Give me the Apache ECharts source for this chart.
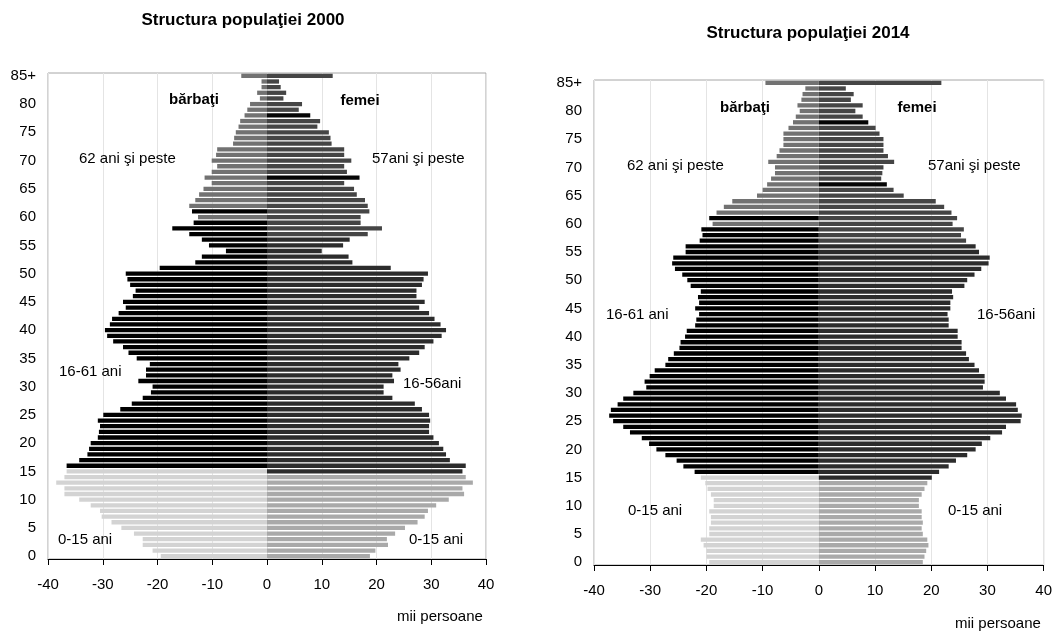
<!DOCTYPE html>
<html><head><meta charset="utf-8">
<script src="https://cdn.jsdelivr.net/npm/echarts@6/dist/echarts.min.js"></script>
<style>html,body{margin:0;padding:0;background:#fff}#c{width:1055px;height:631px}</style>
</head><body><div id="c"></div>
<script>
// age categories, bottom (0) to top (85+)
const ages = ['0','1','2','3','4','5','6','7','8','9','10','11','12','13','14','15','16','17','18','19',
  '20','21','22','23','24','25','26','27','28','29','30','31','32','33','34','35','36','37','38','39',
  '40','41','42','43','44','45','46','47','48','49','50','51','52','53','54','55','56','57','58','59',
  '60','61','62','63','64','65','66','67','68','69','70','71','72','73','74','75','76','77','78','79',
  '80','81','82','83','84','85+'];

// thousands of persons, age 0 .. 85+
const men2000 = [19.4,20.9,22.7,22.7,24.3,26.6,28.4,30.2,30.5,32.2,34.3,37.0,37.0,38.5,37.0,36.6,36.6,34.3,32.8,32.5,
  32.2,30.9,30.7,30.5,30.9,29.9,26.8,24.7,22.7,21.2,20.9,23.5,22.1,22.1,21.4,23.8,25.3,26.3,28.1,29.2,
  29.6,28.7,28.3,27.1,25.8,26.3,24.5,24.0,25.0,25.5,25.8,19.6,13.1,11.9,7.5,10.6,11.9,14.2,17.3,13.4,
  12.6,13.7,14.2,13.1,12.4,11.6,10.1,11.4,10.1,9.1,10.1,9.3,9.1,6.2,6.0,5.7,5.2,4.9,4.1,3.6,
  3.1,1.3,1.8,1.0,1.0,4.7];
const women2000 = [18.8,19.8,22.1,21.9,23.4,25.2,27.5,28.8,29.4,30.9,33.2,36.0,35.7,37.6,36.3,35.7,36.3,33.4,32.7,32.2,
  31.4,30.4,29.6,29.6,29.8,29.6,28.3,27.0,22.9,21.3,21.3,23.2,22.9,24.4,24.0,26.0,27.8,28.8,30.4,31.9,
  32.7,31.7,30.6,29.6,27.8,28.8,27.3,27.3,28.3,28.6,29.4,22.6,15.6,14.9,10.0,13.9,15.1,18.4,21.0,17.1,
  17.1,18.7,18.4,17.9,16.4,15.9,14.1,16.9,14.6,14.1,15.4,14.1,14.1,11.8,11.6,11.3,9.2,9.7,7.9,5.8,
  6.4,3.0,3.5,2.5,2.2,12.0];
const men2014 = [19.5,20.0,20.0,20.5,21.0,19.5,19.5,19.2,19.2,19.5,18.7,18.7,19.2,19.8,20.2,21.0,22.1,24.1,25.3,27.3,
  28.9,30.2,31.5,33.6,34.8,36.6,37.3,37.0,35.8,34.8,33.0,30.7,31.0,30.1,29.2,27.3,26.8,25.8,24.8,24.6,
  23.8,23.5,22.0,21.8,21.3,22.0,21.3,21.5,21.0,22.8,23.4,24.3,25.6,26.1,25.9,23.7,23.7,21.2,20.7,20.9,
  18.9,19.5,18.2,16.9,15.4,11.0,10.0,9.2,8.5,7.8,7.8,9.0,7.5,7.0,6.3,6.3,6.3,5.4,4.6,4.1,
  3.4,3.8,3.1,2.9,2.4,9.5];
const women2014 = [18.5,18.8,19.1,19.5,19.3,18.5,18.3,18.5,18.3,18.3,17.8,17.8,18.3,18.8,19.3,20.1,21.4,23.1,24.4,26.4,
  27.9,29.0,30.5,32.6,33.3,35.9,36.1,35.4,35.1,33.3,32.2,29.2,29.5,29.5,28.5,27.7,26.7,26.2,25.4,25.4,
  24.7,24.7,23.1,23.1,22.9,23.4,23.4,23.9,23.7,25.9,26.4,27.7,28.9,30.2,30.4,28.5,27.9,26.2,25.3,25.8,
  23.8,24.6,23.6,22.3,20.8,15.1,13.3,12.1,11.1,11.3,11.5,13.4,12.3,11.5,11.5,11.5,10.8,10.1,8.8,7.8,
  6.5,7.8,5.7,6.2,4.8,21.8];

const xTicks = [-40,-30,-20,-10,0,10,20,30,40];

const FONT = "'Liberation Sans', Arial, sans-serif";
const COL = {
  mYoung:'#d3d3d3', mWork:'#000000', mOld:'#727272',
  fYoung:'#a9a9a9', fWork:'#2c2c2c', fOld:'#454545', fMark:'#050505'
};
function menColor(i){
  if (i <= 15) return COL.mYoung;
  if (i <= 61 && i !== 60) return COL.mWork;
  return COL.mOld;
}
function womenColor(i){
  if (i <= 14) return COL.fYoung;
  if (i === 67 || i === 78) return COL.fMark;
  if (i <= 56) return COL.fWork;
  return COL.fOld;
}
const menData = arr => arr.map((v,i)=>({value:-v,itemStyle:{color:menColor(i)}}));
const womenData = arr => arr.map((v,i)=>({value:v,itemStyle:{color:womenColor(i)}}));

function xAxisFor(g){
  return {gridIndex:g,type:'value',min:-40,max:40,interval:10,
    axisLine:{show:true,onZero:false,lineStyle:{color:'#000',width:1}},
    axisTick:{show:true,length:6,lineStyle:{color:'#000'}},
    axisLabel:{color:'#000',fontSize:15,fontFamily:FONT,margin:18,
      formatter:v=> xTicks.indexOf(v)>=0 ? String(v) : ''},
    splitLine:{show:true,lineStyle:{color:'#e4e4e4',width:1}}};
}
function yAxisFor(g){
  return {gridIndex:g,type:'category',data:ages,
    axisLine:{show:false,onZero:false},axisTick:{show:false},
    axisLabel:{interval:4,color:'#000',fontSize:15,fontFamily:FONT,margin:12},
    splitLine:{show:false}};
}
function barSeries(g,data){
  return {type:'bar',xAxisIndex:g,yAxisIndex:g,data:data,barGap:'-100%',barCategoryGap:'24%',
    silent:true,animation:false};
}
function txt(t,x,y,opts){
  opts = opts||{};
  return {type:'text',x:x,y:y,silent:true,z:100,style:{text:t,fill:'#000',
    font:(opts.bold?'bold ':'')+(opts.size||15)+'px '+FONT,
    textAlign:opts.align||'left',textVerticalAlign:'middle'}};
}

const chart = echarts.init(document.getElementById('c'),null,{renderer:'canvas'});
chart.setOption({
  animation:false,
  backgroundColor:'#fff',
  grid:[
    {left:48,top:73,width:438,height:486,show:true,borderColor:'#a6a6a6',borderWidth:1,containLabel:false},
    {left:594,top:80,width:451,height:485,show:true,borderColor:'#a6a6a6',borderWidth:1,containLabel:false}
  ],
  xAxis:[xAxisFor(0),xAxisFor(1)],
  yAxis:[yAxisFor(0),yAxisFor(1)],
  series:[
    barSeries(0,menData(men2000)),
    barSeries(0,womenData(women2000)),
    barSeries(1,menData(men2014)),
    barSeries(1,womenData(women2014))
  ],
  graphic:[
    txt('Structura populaţiei 2000',243,20,{bold:true,size:17,align:'center'}),
    txt('Structura populaţiei 2014',808,33,{bold:true,size:17,align:'center'}),
    txt('bărbaţi',194,100,{bold:true,align:'center'}),
    txt('femei',360,101,{bold:true,align:'center'}),
    txt('62 ani şi peste',79,159),
    txt('57ani şi peste',372,159),
    txt('16-61 ani',59,372),
    txt('16-56ani',403,384),
    txt('0-15 ani',58,540),
    txt('0-15 ani',409,540),
    txt('mii persoane',397,617),
    txt('bărbaţi',745,108,{bold:true,align:'center'}),
    txt('femei',917,108,{bold:true,align:'center'}),
    txt('62 ani şi peste',627,166),
    txt('57ani şi peste',928,166),
    txt('16-61 ani',606,315),
    txt('16-56ani',977,315),
    txt('0-15 ani',628,511),
    txt('0-15 ani',948,511),
    txt('mii persoane',955,624)
  ]
});
</script></body></html>
